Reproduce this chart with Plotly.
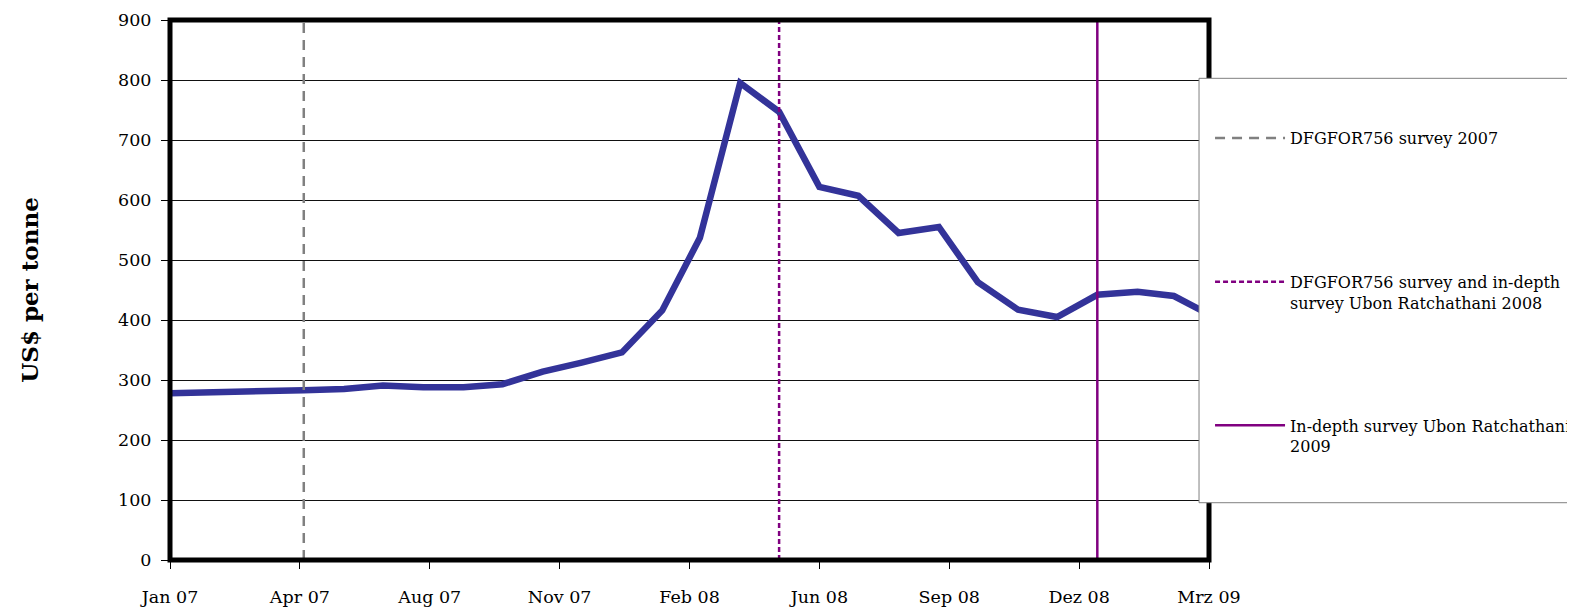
import plotly.graph_objects as go
from datetime import date, timedelta

# ---- data ----
months = ["2007-01-01", "2007-02-01", "2007-03-01", "2007-04-01", "2007-05-01", "2007-06-01",
          "2007-07-01", "2007-08-01", "2007-09-01", "2007-10-01", "2007-11-01", "2007-12-01",
          "2008-01-01", "2008-02-01", "2008-03-01", "2008-04-01", "2008-05-01", "2008-06-01",
          "2008-07-01", "2008-08-01", "2008-09-01", "2008-10-01", "2008-11-01", "2008-12-01",
          "2009-01-01", "2009-02-01", "2009-03-01", "2009-04-01"]
prices = [277, 278, 279, 281, 283, 285,
          291, 288, 288, 293, 314, 329,
          346, 416, 537, 795, 747, 622,
          607, 545, 555, 463, 417, 405,
          442, 447, 440, 405]

survey_dates = ["2007-05-01", "2008-05-01", "2009-01-01"]
survey_names = ["DFGFOR756 survey 2007<br> ",
                "DFGFOR756 survey and in-depth<br>survey Ubon Ratchathani 2008",
                "In-depth survey Ubon Ratchathani<br>2009<br> <br> "]
survey_colors = ["#808080", "#800080", "#800080"]
survey_dash = ["10px,7px", "5px,3px", "solid"]

tick_labels = ["Jan 07", "Apr 07", "Aug 07", "Nov 07", "Feb 08", "Jun 08", "Sep 08", "Dez 08", "Mrz 09"]
axis_start = date(2007, 1, 18)
tick_step_days = 100
y_max = 900

# ---- figure ----
FONT = "DejaVu Serif"
tickvals = [(axis_start + timedelta(days=tick_step_days * i)).isoformat() for i in range(len(tick_labels))]
axis_end = tickvals[-1]

fig = go.Figure()
fig.add_trace(go.Scatter(x=months, y=prices, mode="lines",
                         line=dict(color="#333399", width=6.5),
                         showlegend=False, hoverinfo="x+y"))
for i, (d, n, c, ds) in enumerate(zip(survey_dates, survey_names, survey_colors, survey_dash)):
    fig.add_trace(go.Scatter(x=[d, d], y=[0, y_max], mode="lines", name=n,
                             legendgroup=f"g{i}",
                             line=dict(color=c, width=2.5, dash=ds)))

# plot frame
fig.add_shape(type="rect", xref="paper", yref="paper", x0=0, x1=1, y0=0, y1=1,
              line=dict(color="black", width=5), layer="above")
# legend box
fig.add_shape(type="rect", xref="paper", yref="paper", x0=0.9904, x1=1.5, y0=0.1061, y1=0.892,
              line=dict(color="#808080", width=1), fillcolor="white", layer="above")

fig.update_layout(
    width=1567, height=603,
    margin=dict(l=162, r=366, t=12, b=51, autoexpand=False),
    paper_bgcolor="white", plot_bgcolor="white",
    font=dict(family=FONT, size=17.5, color="black"),
    xaxis=dict(type="date", range=[axis_start.isoformat(), axis_end],
               tickvals=tickvals, ticktext=tick_labels,
               ticks="outside", ticklen=8, tickwidth=1, tickcolor="black",
               showgrid=False, showline=False, zeroline=False,
               ticklabelstandoff=13,
               tickfont=dict(family=FONT, size=17.5, color="black")),
    yaxis=dict(range=[0, y_max], dtick=100, tick0=0,
               ticks="outside", ticklen=8, tickwidth=1, tickcolor="black",
               showgrid=True, gridcolor="#111111", gridwidth=1,
               showline=False, zeroline=False,
               ticklabelstandoff=6,
               tickfont=dict(family=FONT, size=17.5, color="black"),
               title=dict(text="<b>US$ per tonne</b>", standoff=73,
                          font=dict(family=FONT, size=23, color="black"))),
    legend=dict(x=1.001, xanchor="left", y=0.892, yanchor="top",
                bgcolor="rgba(0,0,0,0)", borderwidth=0,
                font=dict(family=FONT, size=16, color="black"),
                itemwidth=70, tracegroupgap=99, valign="top", traceorder="grouped",
                title=dict(text="<br>", font=dict(family=FONT, size=16.5))),
)

fig.write_html("out.html")
